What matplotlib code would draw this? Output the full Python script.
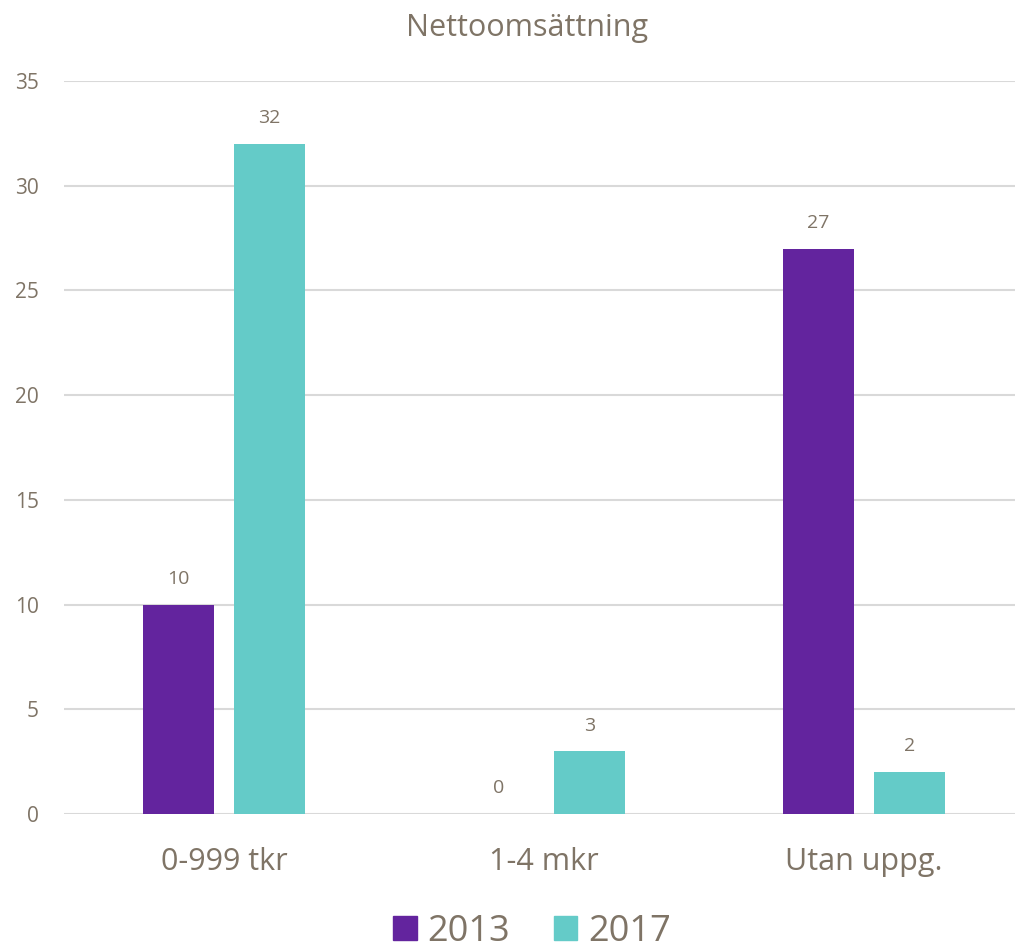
import matplotlib
matplotlib.use("Agg")
import matplotlib.pyplot as plt
from matplotlib.patches import Patch
import numpy as np

categories = ["0-999 tkr", "1-4 mkr", "Utan uppg."]
series_names = ["2013", "2017"]
values_2013 = [10, 0, 27]
values_2017 = [32, 3, 2]
yticks = [0, 5, 10, 15, 20, 25, 30, 35]

c2013 = "#63249E"
c2017 = "#64CBC8"
txt = "#7F7466"
grid = "#D9D9D9"

plt.rcParams['font.family'] = ['Open Sans', 'DejaVu Sans']

W, H = 1015, 949
fig = plt.figure(figsize=(W / 100, H / 100), dpi=100)
ax = fig.add_axes([64 / W, 135 / H, (W - 64) / W, 733 / H])

x = np.arange(len(categories))
bw = 71 / 320
off = 45.5 / 320
b1 = ax.bar(x - off, values_2013, bw, color=c2013, zorder=3)
b2 = ax.bar(x + off, values_2017, bw, color=c2017, zorder=3)

for bars, vals in ((b1, values_2013), (b2, values_2017)):
    for rect, v in zip(bars, vals):
        ax.annotate(str(v), (rect.get_x() + rect.get_width() / 2, v),
                    xytext=(0, 12), textcoords="offset points",
                    ha="center", va="bottom", fontsize=14, color=txt)

ax.set_xlim(-0.5, -0.5 + (W - 64) / 320)
ax.set_ylim(0, 35)
ax.set_yticks(yticks)
ax.set_xticks(x)
ax.set_xticklabels(categories, fontsize=22, color=txt)
ax.tick_params(axis='y', labelsize=15, colors=txt, length=0, pad=18)
ax.tick_params(axis='x', length=0, pad=24)
ax.yaxis.grid(True, color=grid, linewidth=1.5, zorder=0)
for s in ax.spines.values():
    s.set_visible(False)

fig.text(527 / W, 1 - 28 / H, "Nettoomsättning", ha="center", va="center",
         fontsize=22, color=txt)

handles = [Patch(color=c2013), Patch(color=c2017)]
leg = fig.legend(handles, series_names, loc="lower center",
                 bbox_to_anchor=(532 / W, -0.035), ncol=2, frameon=False,
                 fontsize=26, handlelength=0.65, handleheight=0.65,
                 handletextpad=0.3, columnspacing=1.2)
for t in leg.get_texts():
    t.set_color(txt)

fig.savefig("out.png", dpi=100)
